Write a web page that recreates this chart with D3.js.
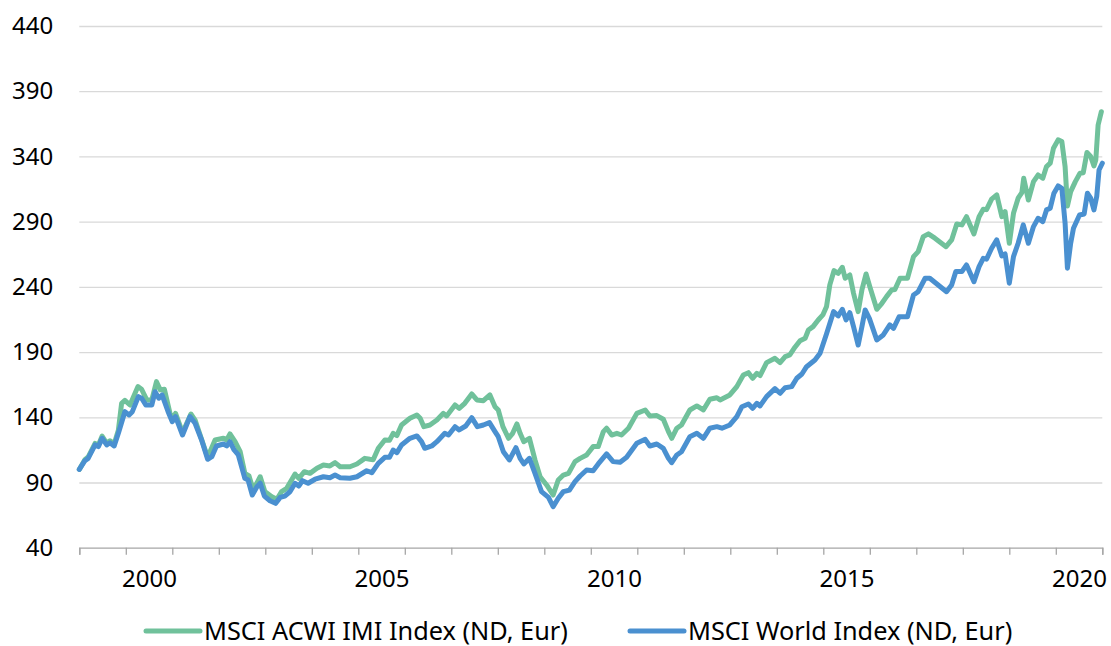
<!DOCTYPE html>
<html>
<head>
<meta charset="utf-8">
<script src="https://cdn.jsdelivr.net/npm/d3@7"></script>
<style>
  html, body { margin: 0; padding: 0; background: #fff; }
  svg { display: block; font-family: "Noto Sans", "Open Sans", sans-serif; }
</style>
</head>
<body>
<svg id="chart" width="1111" height="646"></svg>
<script>
// series as [decimal year, index value]
const acwiPoints = [
  [1999.00, 100], [1999.12, 107.5], [1999.19, 109.5], [1999.34, 120], [1999.41, 118.5],
  [1999.49, 125.5], [1999.59, 120], [1999.66, 122], [1999.75, 119.5], [1999.84, 130],
  [1999.91, 150.7], [1999.98, 153], [2000.09, 149.4], [2000.26, 163.5], [2000.34, 161.5],
  [2000.45, 153.3], [2000.56, 153.3], [2000.66, 167.3], [2000.74, 161], [2000.83, 161.5],
  [2000.95, 143], [2001.00, 138], [2001.07, 143], [2001.22, 128.2], [2001.40, 142.5],
  [2001.49, 137.8], [2001.76, 109.3], [2001.92, 122.6], [2002.10, 123.9], [2002.17, 122.6],
  [2002.24, 127.2], [2002.35, 121.3], [2002.46, 113.6], [2002.56, 97], [2002.65, 95],
  [2002.74, 84.2], [2002.89, 94.4], [2002.99, 83], [2003.14, 79.1], [2003.25, 77.1],
  [2003.35, 83], [2003.46, 85.5], [2003.64, 96.5], [2003.72, 93.2], [2003.84, 98.3],
  [2003.96, 97], [2004.11, 100.9], [2004.25, 103.4], [2004.39, 102.7], [2004.50, 105.2],
  [2004.61, 102.1], [2004.82, 102.1], [2004.97, 104.2], [2005.14, 108.5], [2005.25, 107.8],
  [2005.32, 107.5], [2005.43, 116.2], [2005.57, 122.6], [2005.67, 122.3], [2005.75, 127.7],
  [2005.83, 126], [2005.93, 134.1], [2006.11, 139.2], [2006.26, 141.8], [2006.33, 139.2],
  [2006.41, 132.8], [2006.54, 134.1], [2006.69, 137.9], [2006.83, 143], [2006.90, 141],
  [2007.08, 149.4], [2007.17, 146.8], [2007.29, 150.7], [2007.44, 157.9], [2007.55, 153.3],
  [2007.69, 152.7], [2007.83, 157.1], [2007.94, 148.1], [2008.01, 145.6], [2008.11, 132.8],
  [2008.23, 123.9], [2008.32, 127.7], [2008.41, 134.9], [2008.48, 127.7], [2008.56, 121.3],
  [2008.68, 123.9], [2008.80, 107.3], [2008.91, 94.4], [2009.05, 88.1], [2009.19, 80.4],
  [2009.30, 91.9], [2009.41, 95.7], [2009.52, 97], [2009.66, 106], [2009.77, 108.5],
  [2009.91, 111.1], [2010.05, 117.5], [2010.16, 117.5], [2010.27, 129], [2010.34, 131.6],
  [2010.45, 126.4], [2010.56, 127.7], [2010.66, 126.4], [2010.81, 131.6], [2010.99, 143],
  [2011.17, 145.6], [2011.27, 141], [2011.42, 141.3], [2011.56, 138.5], [2011.67, 129],
  [2011.74, 123.9], [2011.85, 131.6], [2011.95, 134.1], [2012.13, 145.6], [2012.28, 148.7],
  [2012.42, 145.6], [2012.56, 153.8], [2012.71, 155], [2012.78, 153.3], [2012.99, 157.1],
  [2013.14, 163.5], [2013.28, 172.4], [2013.39, 174.2], [2013.48, 169.9], [2013.57, 173.7],
  [2013.64, 172], [2013.78, 181.9], [2013.96, 185.2], [2014.07, 181.9], [2014.18, 186.5],
  [2014.28, 187.8], [2014.39, 193.7], [2014.50, 198.7], [2014.61, 200.6], [2014.68, 206.9],
  [2014.78, 209.5], [2014.89, 214.6], [2014.99, 218.5], [2015.07, 225], [2015.14, 241.5],
  [2015.23, 252.4], [2015.32, 250.4], [2015.41, 255], [2015.47, 246.6], [2015.57, 249.1],
  [2015.65, 235.1], [2015.75, 221], [2015.83, 237.6], [2015.92, 249.9], [2016.00, 240.2],
  [2016.15, 222.8], [2016.26, 227.4], [2016.36, 232.5], [2016.47, 237.6], [2016.54, 238],
  [2016.65, 246.6], [2016.81, 246.6], [2016.94, 263.2], [2017.04, 267], [2017.15, 278.5],
  [2017.26, 280.6], [2017.40, 277.3], [2017.64, 270.8], [2017.76, 276], [2017.87, 288.2],
  [2017.98, 287.5], [2018.08, 293.8], [2018.24, 280.6], [2018.35, 293.8], [2018.44, 299.5],
  [2018.51, 299.2], [2018.62, 307.2], [2018.73, 310.5], [2018.84, 293.8], [2018.91, 297.7],
  [2019.00, 273.4], [2019.09, 296.4], [2019.19, 308], [2019.27, 312.3], [2019.31, 323.3],
  [2019.41, 306.6], [2019.52, 320.7], [2019.62, 325.8], [2019.72, 323.3], [2019.80, 332.2],
  [2019.88, 334.8], [2019.95, 346.3], [2020.05, 352.7], [2020.13, 351.4], [2020.20, 332.2],
  [2020.25, 302], [2020.32, 313], [2020.42, 320.7], [2020.52, 327.1], [2020.59, 327.5],
  [2020.67, 343], [2020.75, 339.9], [2020.82, 332.7], [2020.86, 337.3], [2020.91, 364.1],
  [2020.98, 374.3]
];

const worldPoints = [
  [1999.00, 100], [1999.12, 106.7], [1999.19, 108.5], [1999.34, 118.8], [1999.41, 117.5],
  [1999.49, 123.9], [1999.59, 118.8], [1999.66, 120.5], [1999.75, 118], [1999.84, 127.7],
  [1999.98, 144.3], [2000.07, 141.8], [2000.14, 144.3], [2000.27, 155.8], [2000.34, 154.6],
  [2000.43, 149.4], [2000.56, 149.4], [2000.63, 159.6], [2000.71, 154.6], [2000.78, 157.1],
  [2000.91, 144.3], [2001.00, 136.6], [2001.07, 140.5], [2001.22, 126.4], [2001.38, 140.5],
  [2001.49, 135.4], [2001.63, 122.6], [2001.76, 107.8], [2001.85, 109.8], [2001.95, 118],
  [2002.10, 119.5], [2002.17, 118], [2002.24, 121.3], [2002.33, 114.9], [2002.42, 111.1],
  [2002.56, 93.2], [2002.63, 91.9], [2002.72, 80.4], [2002.82, 86.8], [2002.89, 89.4],
  [2002.98, 79.6], [2003.10, 76], [2003.22, 74], [2003.32, 78.6], [2003.42, 79.6],
  [2003.53, 82.9], [2003.64, 89.4], [2003.72, 87.3], [2003.80, 91.4], [2003.92, 89.4],
  [2004.07, 92.5], [2004.25, 94.4], [2004.39, 93.7], [2004.50, 95.7], [2004.61, 93.7],
  [2004.82, 93.2], [2004.97, 94.4], [2005.18, 99], [2005.29, 97.5], [2005.43, 104.7],
  [2005.57, 109.3], [2005.67, 109.3], [2005.75, 114.9], [2005.83, 112.9], [2005.93, 118.8],
  [2006.11, 123.9], [2006.26, 125.7], [2006.36, 121.3], [2006.43, 116.2], [2006.58, 118],
  [2006.69, 121.3], [2006.86, 127.7], [2006.94, 126.4], [2007.08, 132.8], [2007.17, 130.3],
  [2007.31, 133.3], [2007.44, 139.7], [2007.56, 132.8], [2007.69, 134.1], [2007.82, 135.9],
  [2007.94, 129], [2008.01, 125.1], [2008.12, 113.6], [2008.25, 107.3], [2008.39, 116.7],
  [2008.48, 108.5], [2008.56, 104.2], [2008.68, 108.5], [2008.80, 97], [2008.94, 83],
  [2009.09, 78.6], [2009.19, 71.4], [2009.30, 77.9], [2009.41, 83], [2009.54, 84.2],
  [2009.66, 90.6], [2009.77, 95], [2009.91, 99.6], [2010.05, 99], [2010.16, 104.2],
  [2010.34, 111.9], [2010.48, 106], [2010.63, 105.5], [2010.77, 109.3], [2010.99, 120.1],
  [2011.17, 123.1], [2011.27, 118], [2011.42, 119.5], [2011.56, 116.2], [2011.67, 108.5],
  [2011.74, 105.2], [2011.85, 111.1], [2011.95, 113.6], [2012.13, 125.1], [2012.28, 127.7],
  [2012.42, 123.9], [2012.56, 131.6], [2012.71, 132.8], [2012.82, 131.6], [2012.99, 134.1],
  [2013.14, 140.5], [2013.25, 148.1], [2013.39, 150.2], [2013.48, 146.9], [2013.57, 150.7],
  [2013.64, 148.7], [2013.78, 155.8], [2013.96, 162], [2014.07, 158.4], [2014.18, 162.7],
  [2014.32, 163.5], [2014.43, 169.9], [2014.54, 173.2], [2014.64, 178.8], [2014.82, 183.9],
  [2014.93, 189.1], [2015.07, 204], [2015.22, 221], [2015.32, 217.7], [2015.41, 222.8],
  [2015.49, 214.6], [2015.57, 220.2], [2015.65, 209.5], [2015.75, 195.4], [2015.83, 209.5],
  [2015.90, 222.3], [2015.99, 215.9], [2016.15, 199.3], [2016.29, 203.1], [2016.43, 210.8],
  [2016.51, 208.2], [2016.63, 217.1], [2016.81, 217.1], [2016.94, 233.8], [2017.04, 236.3],
  [2017.19, 246.6], [2017.29, 246.6], [2017.65, 236.3], [2017.76, 241.5], [2017.85, 251.7],
  [2017.98, 251.7], [2018.08, 256.8], [2018.24, 244], [2018.35, 255.5], [2018.44, 261.9],
  [2018.51, 261.2], [2018.62, 269.6], [2018.73, 276], [2018.84, 263.7], [2018.91, 265.2],
  [2019.00, 242.8], [2019.09, 263.2], [2019.19, 273.4], [2019.30, 287.5], [2019.41, 273.4],
  [2019.52, 286.2], [2019.62, 292.6], [2019.72, 290], [2019.80, 299], [2019.88, 300.3],
  [2019.96, 311.8], [2020.05, 317.4], [2020.13, 315.6], [2020.20, 288.8], [2020.25, 254.3],
  [2020.32, 273.4], [2020.38, 284.9], [2020.51, 295.1], [2020.61, 295.9], [2020.68, 311.8],
  [2020.75, 308], [2020.82, 299], [2020.88, 309.2], [2020.93, 329.6], [2021.00, 334.8]
];

const seriesNames = ["MSCI ACWI IMI Index (ND, Eur)", "MSCI World Index (ND, Eur)"];
const seriesColors = ["#70c19b", "#4a90d0"];
const yTicks = [40, 90, 140, 190, 240, 290, 340, 390, 440];
const xYears = d3.range(1999, 2022);
const xLabelYears = [2000, 2005, 2010, 2015, 2020];

const svg = d3.select("#chart");
const plot = { left: 79.3, right: 1102.3, top: 26, bottom: 547.7 };

const x = d3.scaleLinear().domain([1999, 2021]).range([plot.left, plot.right]);
const y = d3.scaleLinear().domain([40, 440]).range([plot.bottom, plot.top]);

// gridlines + y labels
const yAxis = svg.append("g")
    .attr("transform", "translate(" + plot.left + ",0)")
    .call(d3.axisLeft(y).tickValues(yTicks).tickSize(-(plot.right - plot.left)).tickPadding(26));
yAxis.select(".domain").remove();
yAxis.selectAll(".tick line")
    .attr("stroke", d => d === 40 ? "none" : "#d9d9d9")
    .attr("stroke-width", 1.3);
yAxis.selectAll(".tick text")
    .attr("font-size", 24)
    .attr("fill", "#000")
    .attr("font-family", "Noto Sans");

// x axis: year tick marks
const xAxis = svg.append("g")
    .attr("transform", "translate(0," + plot.bottom + ")")
    .call(d3.axisBottom(x).tickValues(xYears).tickSize(7).tickFormat(""));
xAxis.select(".domain").attr("stroke", "#a6a6a6").attr("stroke-width", 1.3);
xAxis.selectAll(".tick line").attr("stroke", "#a6a6a6").attr("stroke-width", 1.3);

// x labels centred in their year
const xLabels = svg.append("g")
    .attr("transform", "translate(0," + plot.bottom + ")")
    .call(d3.axisBottom(x).tickValues(xLabelYears.map(d => d + 0.5)).tickSize(0)
        .tickPadding(22).tickFormat(d => Math.floor(d)));
xLabels.select(".domain").remove();
xLabels.selectAll(".tick text")
    .attr("font-size", 24)
    .attr("fill", "#000")
    .attr("font-family", "Noto Sans");

// lines
const line = d3.line()
    .x(d => x(d[0]))
    .y(d => y(d[1]));

[acwiPoints, worldPoints].forEach(function (pts, i) {
    svg.append("path")
        .datum(pts)
        .attr("fill", "none")
        .attr("stroke", seriesColors[i])
        .attr("stroke-width", 5)
        .attr("stroke-linejoin", "round")
        .attr("stroke-linecap", "round")
        .attr("d", line);
});

// legend
const legendX = [146, 630];
const legend = svg.append("g");
seriesNames.forEach(function (name, i) {
    const g = legend.append("g").attr("transform", "translate(" + legendX[i] + ",631)");
    g.append("line")
        .attr("x1", 0).attr("x2", 54)
        .attr("stroke", seriesColors[i])
        .attr("stroke-width", 5)
        .attr("stroke-linecap", "round");
    g.append("text")
        .attr("x", 58)
        .attr("y", 9)
        .attr("font-size", 25.3)
        .attr("fill", "#000")
        .text(name);
});
</script>
</body>
</html>
